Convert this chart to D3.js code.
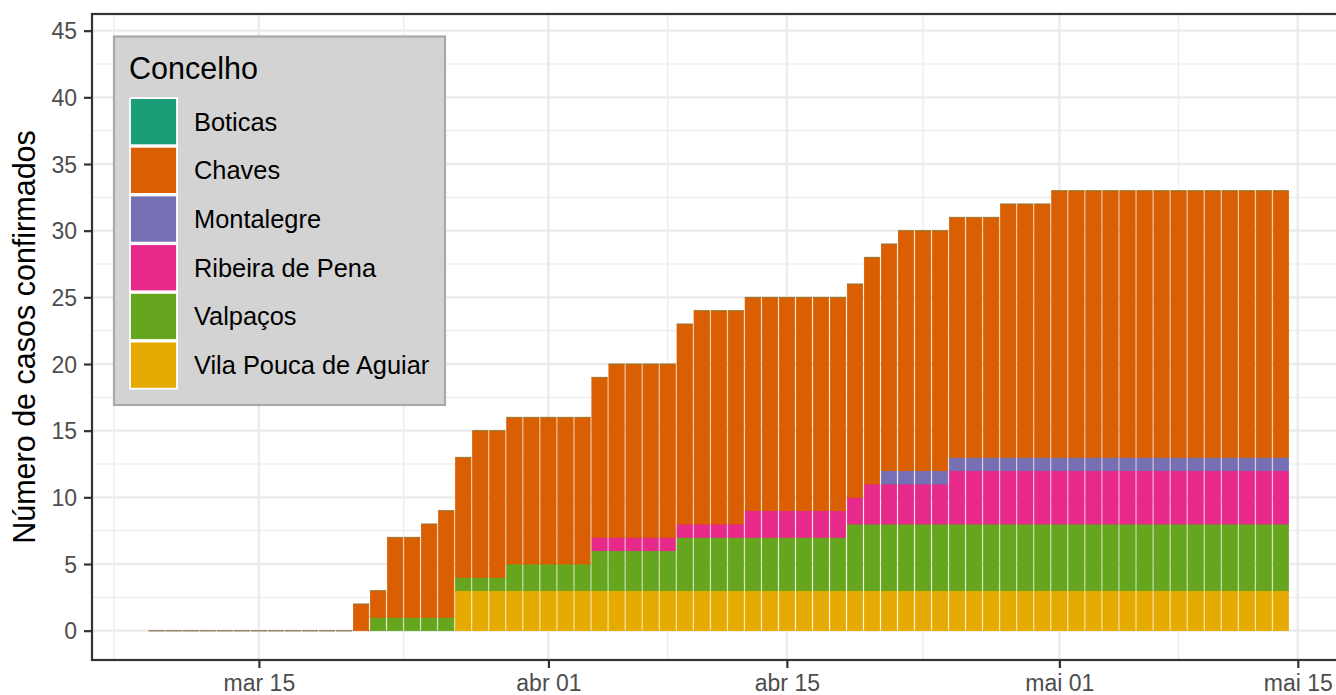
<!DOCTYPE html>
<html>
<head>
<meta charset="utf-8">
<script src="https://cdn.jsdelivr.net/npm/d3@7"></script>
<style>
  html, body { margin: 0; padding: 0; background: #ffffff; }
  svg { display: block; font-family: "Liberation Sans", Arial, Helvetica, sans-serif; }
</style>
</head>
<body>
<svg id="chart" width="1336" height="695"></svg>
<script>
// ---------------- DATA ----------------
const dates = [
  "2020-03-09","2020-03-10","2020-03-11","2020-03-12","2020-03-13","2020-03-14","2020-03-15","2020-03-16",
  "2020-03-17","2020-03-18","2020-03-19","2020-03-20","2020-03-21","2020-03-22","2020-03-23","2020-03-24",
  "2020-03-25","2020-03-26","2020-03-27","2020-03-28","2020-03-29","2020-03-30","2020-03-31",
  "2020-04-01","2020-04-02","2020-04-03","2020-04-04","2020-04-05","2020-04-06","2020-04-07","2020-04-08",
  "2020-04-09","2020-04-10","2020-04-11","2020-04-12","2020-04-13","2020-04-14","2020-04-15","2020-04-16",
  "2020-04-17","2020-04-18","2020-04-19","2020-04-20","2020-04-21","2020-04-22","2020-04-23","2020-04-24",
  "2020-04-25","2020-04-26","2020-04-27","2020-04-28","2020-04-29","2020-04-30",
  "2020-05-01","2020-05-02","2020-05-03","2020-05-04","2020-05-05","2020-05-06","2020-05-07","2020-05-08",
  "2020-05-09","2020-05-10","2020-05-11","2020-05-12","2020-05-13","2020-05-14"
];

const boticas = [
  0,0,0,0,0,0,0,0,0,0,0,0, 0,0,0,0,0,0,0,0,0,0,0,
  0,0,0,0,0,0,0,0,0,0,0,0,0,0,0,0,0,0,0,0,0,0,0,0,0,0,0,0,0,0,
  0,0,0,0,0,0,0,0,0,0,0,0,0,0
];
const chaves = [
  0,0,0,0,0,0,0,0,0,0,0,0, 2,2,6,6,7,8,9,11,11,11,11,
  11,11,11,12,13,13,13,13,15,16,16,16,16,16,16,16,16,16,16,17,17,18,18,18,18,18,18,19,19,19,
  20,20,20,20,20,20,20,20,20,20,20,20,20,20
];
const montalegre = [
  0,0,0,0,0,0,0,0,0,0,0,0, 0,0,0,0,0,0,0,0,0,0,0,
  0,0,0,0,0,0,0,0,0,0,0,0,0,0,0,0,0,0,0,0,1,1,1,1,1,1,1,1,1,1,
  1,1,1,1,1,1,1,1,1,1,1,1,1,1
];
const ribeira = [
  0,0,0,0,0,0,0,0,0,0,0,0, 0,0,0,0,0,0,0,0,0,0,0,
  0,0,0,1,1,1,1,1,1,1,1,1,2,2,2,2,2,2,2,3,3,3,3,3,4,4,4,4,4,4,
  4,4,4,4,4,4,4,4,4,4,4,4,4,4
];
const valpacos = [
  0,0,0,0,0,0,0,0,0,0,0,0, 0,1,1,1,1,1,1,1,1,2,2,
  2,2,2,3,3,3,3,3,4,4,4,4,4,4,4,4,4,4,5,5,5,5,5,5,5,5,5,5,5,5,
  5,5,5,5,5,5,5,5,5,5,5,5,5,5
];
const vilaPouca = [
  0,0,0,0,0,0,0,0,0,0,0,0, 0,0,0,0,0,0,3,3,3,3,3,
  3,3,3,3,3,3,3,3,3,3,3,3,3,3,3,3,3,3,3,3,3,3,3,3,3,3,3,3,3,3,
  3,3,3,3,3,3,3,3,3,3,3,3,3,3
];

const concelhos = ["Boticas","Chaves","Montalegre","Ribeira de Pena","Valpaços","Vila Pouca de Aguiar"];
const colors = ["#1B9E77","#D95F02","#7570B3","#E7298A","#66A61E","#E6AB02"];
const seriesValues = [boticas, chaves, montalegre, ribeira, valpacos, vilaPouca];

const yTicks = [0,5,10,15,20,25,30,35,40,45];
const yMinor = [2.5,7.5,12.5,17.5,22.5,27.5,32.5,37.5,42.5];
const xTickDates = ["2020-03-15","2020-04-01","2020-04-15","2020-05-01","2020-05-15"];
const xTickLabels = ["mar 15","abr 01","abr 15","mai 01","mai 15"];
const xMinorDates = ["2020-03-06T12:00","2020-03-23T12:00","2020-04-08T00:00","2020-04-23T00:00","2020-05-08T00:00"];
const legendTitle = "Concelho";
const yTitle = "Número de casos confirmados";

// ---------------- LAYOUT ----------------
const svg = d3.select("#chart");
const panel = { left: 92, top: 14, right: 1345.5, bottom: 660 };
const DAY = 864e5;
const parse = d3.utcParse("%Y-%m-%d");
const parseT = d3.utcParse("%Y-%m-%dT%H:%M");
const dts = dates.map(parse);

const x = d3.scaleUtc()
  .domain([new Date(+dts[0] - 3.8 * DAY), new Date(+dts[dts.length - 1] + 3.8 * DAY)])
  .range([panel.left, panel.right]);
const y = d3.scaleLinear().domain([-2.2, 46.25]).range([panel.bottom, panel.top]);
const color = d3.scaleOrdinal().domain(concelhos).range(colors);

svg.append("rect").attr("width", 1336).attr("height", 695).attr("fill", "#ffffff");

// grid
const grid = svg.append("g");
grid.selectAll(".ymin").data(yMinor).join("line")
  .attr("x1", panel.left).attr("x2", panel.right)
  .attr("y1", d => y(d)).attr("y2", d => y(d))
  .attr("stroke", "#ebebeb").attr("stroke-width", 1.2);
grid.selectAll(".xmin").data(xMinorDates.map(parseT)).join("line")
  .attr("x1", d => x(d)).attr("x2", d => x(d))
  .attr("y1", panel.top).attr("y2", panel.bottom)
  .attr("stroke", "#ebebeb").attr("stroke-width", 1.2);
grid.selectAll(".ymaj").data(yTicks).join("line")
  .attr("x1", panel.left).attr("x2", panel.right)
  .attr("y1", d => y(d)).attr("y2", d => y(d))
  .attr("stroke", "#ebebeb").attr("stroke-width", 2.4);
grid.selectAll(".xmaj").data(xTickDates.map(parse)).join("line")
  .attr("x1", d => x(d)).attr("x2", d => x(d))
  .attr("y1", panel.top).attr("y2", panel.bottom)
  .attr("stroke", "#ebebeb").attr("stroke-width", 2.4);

// stacked data
const rows = dts.map((d, i) => {
  const r = { date: d };
  concelhos.forEach((c, k) => { r[c] = seriesValues[k][i]; });
  return r;
});
const stackOrder = concelhos.slice().reverse(); // bottom: Vila Pouca ... top: Boticas
const stacked = d3.stack().keys(stackOrder)(rows);
const totals = rows.map(r => d3.sum(concelhos, c => r[c]));

const halfW = 0.45 * DAY;
const bars = svg.append("g");
stacked.forEach(layer => {
  const col = color(layer.key);
  bars.selectAll(null).data(layer.filter(s => s[1] > s[0])).join("rect")
    .attr("x", s => x(new Date(+s.data.date - halfW)))
    .attr("width", s => x(new Date(+s.data.date + halfW)) - x(new Date(+s.data.date - halfW)))
    .attr("y", s => y(s[1]))
    .attr("height", s => y(s[0]) - y(s[1]))
    .attr("fill", col)
    .attr("stroke", col)
    .attr("stroke-width", 0.8);
});
// zero-height segments at the top of each stack (drawn as thin outlines)
stacked.forEach(layer => {
  const col = color(layer.key);
  bars.selectAll(null).data(layer.filter((s, i) => s[1] === s[0] && s[1] === totals[i])).join("line")
    .attr("x1", s => x(new Date(+s.data.date - halfW)) - 0.4)
    .attr("x2", s => x(new Date(+s.data.date + halfW)) + 0.4)
    .attr("y1", s => y(s[1])).attr("y2", s => y(s[1]))
    .attr("stroke", col).attr("stroke-opacity", 0.3).attr("stroke-width", 1.2);
});

// panel border
svg.append("rect")
  .attr("x", panel.left).attr("y", panel.top)
  .attr("width", panel.right - panel.left).attr("height", panel.bottom - panel.top)
  .attr("fill", "none").attr("stroke", "#333333").attr("stroke-width", 2.2);

// y axis
const yAxis = svg.append("g").attr("transform", `translate(${panel.left},0)`)
  .call(d3.axisLeft(y).tickValues(yTicks).tickSize(8).tickPadding(7));
yAxis.select(".domain").remove();
yAxis.selectAll(".tick line").attr("stroke", "#333333").attr("stroke-width", 2.2);
yAxis.selectAll(".tick text").attr("fill", "#4d4d4d").attr("font-size", 23)
  .attr("font-family", "Liberation Sans, Arial, sans-serif").attr("dy", "0.36em");

// x axis
const xAxis = svg.append("g").attr("transform", `translate(0,${panel.bottom})`)
  .call(d3.axisBottom(x).tickValues(xTickDates.map(parse))
    .tickFormat((d, i) => xTickLabels[i]).tickSize(8).tickPadding(7));
xAxis.select(".domain").remove();
xAxis.selectAll(".tick line").attr("stroke", "#333333").attr("stroke-width", 2.2);
xAxis.selectAll(".tick text").attr("fill", "#4d4d4d").attr("font-size", 23)
  .attr("font-family", "Liberation Sans, Arial, sans-serif").attr("dy", "0.71em");

// y title
svg.append("text")
  .attr("transform", `translate(35,${(panel.top + panel.bottom) / 2}) rotate(-90)`)
  .attr("text-anchor", "middle")
  .attr("font-size", 30.5).attr("fill", "#000000")
  .text(yTitle);

// legend
const lg = svg.append("g");
lg.append("rect").attr("x", 114).attr("y", 36.5).attr("width", 331).attr("height", 368.5)
  .attr("fill", "#d3d3d3").attr("stroke", "#a9a9a9").attr("stroke-width", 2.2);
lg.append("text").attr("x", 129).attr("y", 79).attr("font-size", 30.5).attr("fill", "#000000")
  .text(legendTitle);
const keyH = 48.7, keyTop = 97.3;
const items = lg.selectAll(".item").data(concelhos).join("g")
  .attr("transform", (d, i) => `translate(0,${keyTop + i * keyH})`);
items.append("rect").attr("x", 130).attr("y", 0.8).attr("width", 47).attr("height", keyH - 1.6)
  .attr("fill", d => color(d)).attr("stroke", "#ffffff").attr("stroke-width", 1.8);
items.append("text").attr("x", 194).attr("y", keyH / 2 + 9)
  .attr("font-size", 25.4).attr("fill", "#000000").text(d => d);
</script>
</body>
</html>
